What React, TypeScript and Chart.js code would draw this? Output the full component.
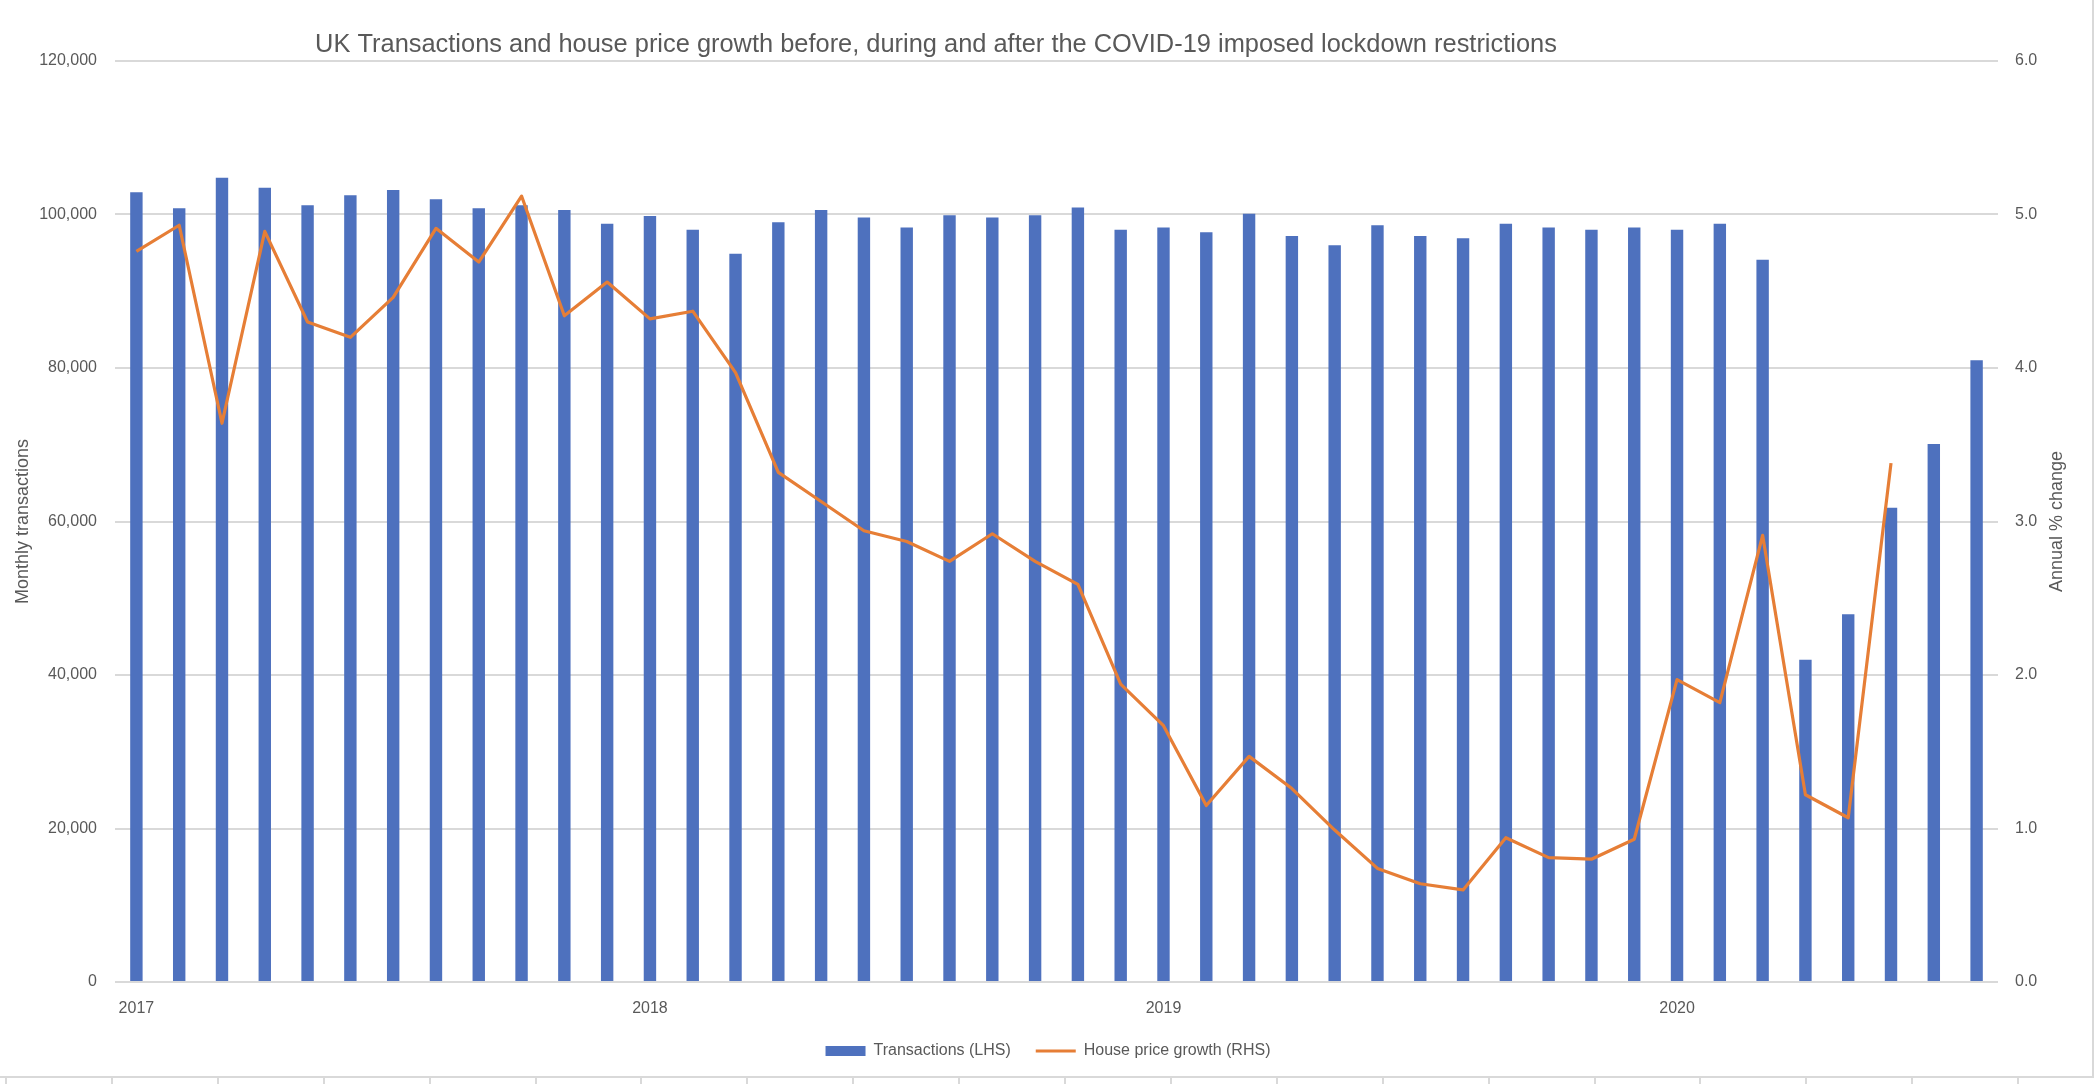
import React, { useEffect, useRef } from 'react';
import { Chart, registerables } from 'chart.js';

Chart.register(...registerables);

const chartTitle =
  'UK Transactions and house price growth before, during and after the COVID-19 imposed lockdown restrictions';

const monthLabels = [
  'Jan 2017', 'Feb 2017', 'Mar 2017', 'Apr 2017', 'May 2017', 'Jun 2017',
  'Jul 2017', 'Aug 2017', 'Sep 2017', 'Oct 2017', 'Nov 2017', 'Dec 2017',
  'Jan 2018', 'Feb 2018', 'Mar 2018', 'Apr 2018', 'May 2018', 'Jun 2018',
  'Jul 2018', 'Aug 2018', 'Sep 2018', 'Oct 2018', 'Nov 2018', 'Dec 2018',
  'Jan 2019', 'Feb 2019', 'Mar 2019', 'Apr 2019', 'May 2019', 'Jun 2019',
  'Jul 2019', 'Aug 2019', 'Sep 2019', 'Oct 2019', 'Nov 2019', 'Dec 2019',
  'Jan 2020', 'Feb 2020', 'Mar 2020', 'Apr 2020', 'May 2020', 'Jun 2020',
  'Jul 2020', 'Aug 2020',
];

const transactions = [
  102900, 100800, 104800, 103500, 101200, 102500, 103200, 102000, 100800, 101200, 100600, 98800,
  99800, 98000, 94900, 99000, 100600, 99600, 98300, 99900, 99600, 99900, 100900, 98000,
  98300, 97700, 100100, 97200, 96000, 98600, 97200, 96900, 98800, 98300, 98000, 98300,
  98000, 98800, 94100, 42000, 47900, 61800, 70100, 81000,
];

const priceGrowth = [
  4.76, 4.93, 3.64, 4.89, 4.30, 4.20, 4.46, 4.91, 4.69, 5.12, 4.34, 4.56,
  4.32, 4.37, 3.97, 3.32, 3.13, 2.94, 2.87, 2.74, 2.92, 2.74, 2.59, 1.94,
  1.67, 1.15, 1.47, 1.26, 0.99, 0.74, 0.64, 0.60, 0.94, 0.81, 0.80, 0.93,
  1.97, 1.82, 2.91, 1.22, 1.07, 3.38,
];

const seriesNames = ['Transactions (LHS)', 'House price growth (RHS)'];
const leftAxisTitle = 'Monthly transactions';
const rightAxisTitle = 'Annual % change';

const FONT = '"Liberation Sans", Arial, sans-serif';
const TEXT = '#595959';
const GRID = '#D9D9D9';
const BLUE = '#4E71BE';
const ORANGE = '#E67E36';

const overlayPlugin = {
  id: 'overlay',
  afterDraw(chart: any) {
    const { ctx, chartArea } = chart;
    ctx.save();
    ctx.fillStyle = TEXT;
    ctx.font = `24px ${FONT}`;
    const w = ctx.measureText(chartTitle).width;
    const size = (24 * 1242) / w;
    ctx.font = `${size}px ${FONT}`;
    ctx.textAlign = 'center';
    ctx.textBaseline = 'middle';
    ctx.fillText(chartTitle, 936, 45);

    ctx.translate(2057, (chartArea.top + chartArea.bottom) / 2);
    ctx.rotate(-Math.PI / 2);
    ctx.font = `18px ${FONT}`;
    ctx.fillText(rightAxisTitle, 0, 0);
    ctx.restore();
  },
};

export default function App() {
  const ref = useRef<HTMLCanvasElement | null>(null);

  useEffect(() => {
    if (!ref.current) return;
    const chart = new Chart(ref.current, {
      type: 'bar',
      data: {
        labels: monthLabels,
        datasets: [
          {
            type: 'bar',
            label: seriesNames[0],
            data: transactions,
            backgroundColor: BLUE,
            borderWidth: 0,
            barPercentage: 0.29,
            categoryPercentage: 1,
            yAxisID: 'y',
            order: 1,
          } as any,
          {
            type: 'line',
            label: seriesNames[1],
            data: priceGrowth,
            borderColor: ORANGE,
            backgroundColor: ORANGE,
            borderWidth: 3.2,
            pointRadius: 0,
            tension: 0,
            borderJoinStyle: 'round',
            yAxisID: 'y1',
            order: 0,
          } as any,
        ],
      },
      options: {
        animation: false,
        responsive: false,
        maintainAspectRatio: false,
        layout: { padding: { top: 61, bottom: 15, left: 0, right: 0 } },
        plugins: {
          title: { display: false },
          tooltip: { enabled: false },
          legend: {
            display: true,
            position: 'bottom',
            labels: {
              usePointStyle: true,
              pointStyleWidth: 40,
              boxHeight: 10,
              padding: 25,
              color: TEXT,
              font: { family: FONT, size: 16 },
              sort: (a: any, b: any) => a.datasetIndex - b.datasetIndex,
              generateLabels: (ch: any) => {
                const items = Chart.defaults.plugins.legend.labels.generateLabels(ch);
                return items.map((it: any) => ({
                  ...it,
                  pointStyle: it.datasetIndex === 0 ? 'rect' : 'line',
                  lineWidth: it.datasetIndex === 0 ? 0 : 3.2,
                  strokeStyle: it.datasetIndex === 0 ? BLUE : ORANGE,
                }));
              },
            },
          },
        },
        scales: {
          x: {
            type: 'category',
            grid: { display: false, drawTicks: false },
            border: { display: false },
            ticks: {
              autoSkip: false,
              maxRotation: 0,
              minRotation: 0,
              padding: 17,
              color: TEXT,
              font: { family: FONT, size: 16 },
              callback: (_v: any, i: number) =>
                monthLabels[i].startsWith('Jan') ? monthLabels[i].slice(4) : '',
            },
            afterFit: (s: any) => {
              s.height = 36;
            },
          },
          y: {
            position: 'left',
            min: 0,
            max: 120000,
            grid: { color: GRID, lineWidth: 2, drawTicks: false },
            border: { display: false },
            ticks: {
              stepSize: 20000,
              padding: 18,
              color: TEXT,
              font: { family: FONT, size: 16 },
              callback: (v: any) => Number(v).toLocaleString('en-US'),
            },
            title: {
              display: true,
              text: leftAxisTitle,
              color: TEXT,
              font: { family: FONT, size: 18 },
              padding: { top: 12, bottom: 0 },
            },
            afterFit: (s: any) => {
              s.width = 115;
            },
          },
          y1: {
            position: 'right',
            min: 0,
            max: 6,
            grid: { drawOnChartArea: false, drawTicks: false },
            border: { display: false },
            ticks: {
              stepSize: 1,
              padding: 17,
              color: TEXT,
              font: { family: FONT, size: 16 },
              callback: (v: any) => Number(v).toFixed(1),
            },
            afterFit: (s: any) => {
              s.width = 98;
            },
          },
        },
      },
      plugins: [overlayPlugin],
    });
    return () => chart.destroy();
  }, []);

  const ticks = [];
  for (let k = 0; k < 20; k++) {
    ticks.push(
      <div
        key={k}
        style={{ position: 'absolute', left: 5 + k * 105.9, top: 1078, width: 2, height: 6, background: GRID }}
      />
    );
  }

  return (
    <div style={{ position: 'absolute', left: 0, top: 0, width: 2096, height: 1084, background: '#fff', overflow: 'hidden' }}>
      <canvas ref={ref} width={2096} height={1084} style={{ display: 'block', width: 2096, height: 1084 }} />
      <div style={{ position: 'absolute', left: 0, top: 1076, width: 2094, height: 2, background: GRID }} />
      <div style={{ position: 'absolute', left: 2092, top: 0, width: 2, height: 1078, background: GRID }} />
      {ticks}
    </div>
  );
}
